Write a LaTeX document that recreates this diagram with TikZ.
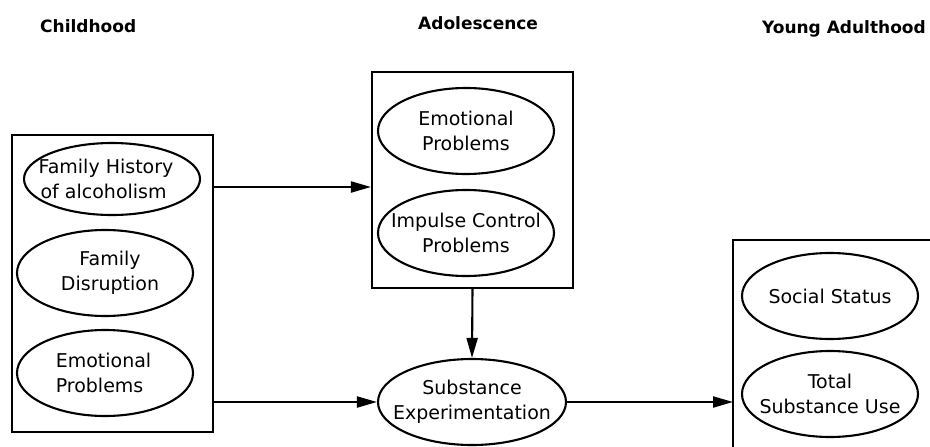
\documentclass[tikz,border=0pt]{standalone}
\usepackage{fontspec}
\setmainfont{DejaVu Sans}
\usetikzlibrary{shapes.geometric,arrows.meta}
\begin{document}
\begin{tikzpicture}[x=1pt,y=-1pt,
  ell/.style={draw,ellipse,line width=2.1pt,inner sep=-30pt,minimum width=176pt,minimum height=86pt,align=center,font=\fontsize{19}{25}\selectfont},
  boxx/.style={draw,line width=2.1pt,inner sep=0pt},
  hdr/.style={font=\fontsize{17}{20}\selectfont\bfseries,inner sep=0pt},
  arr/.style={line width=2.1pt,-{Triangle[length=20pt,width=11pt]}}]
\useasboundingbox (0,0) rectangle (930,447);
% headers
\node[hdr,anchor=west] (h1) at (40,26) {Childhood};
\node[hdr,anchor=west] (h2) at (418,23) {Adolescence};
\node[hdr,anchor=east] (h3) at (926,29) {Young Adulthood};
% left box
\node[boxx,minimum width=201pt,minimum height=297pt] (lbox) at (112.5,283.5) {};
\node[ell,minimum height=72pt,align=left] (fh) at (112,179) {\hspace*{-12pt}Family History\\\hspace*{-10pt}of alcoholism};
\node[ell] (fd) at (105,273) {\hspace*{10pt}Family\\\hspace*{10pt}Disruption};
\node[ell,align=left] (ep1) at (105,373) {\hspace*{-3pt}Emotional\\\hspace*{-3pt}Problems};
% adolescence box
\node[boxx,minimum width=201pt,minimum height=216pt] (abox) at (472.5,180) {};
\node[ell] (ep2) at (466,131) {Emotional\\Problems};
\node[ell] (ic) at (466,233) {Impulse Control\\Problems};
% substance
\node[ell,minimum width=188pt] (sub) at (472,402) {Substance\\Experimentation};
% right box
\draw[line width=2.1pt] (733,450) -- (733,240) -- (935,240);
\coordinate (ya) at (733,402);
\node[ell] (ss) at (830,296) {Social Status};
\node[ell] (ts) at (830,394) {Total\\Substance Use};
% arrows
\coordinate (a1) at (0,187);
\draw[arr] (lbox.east |- a1) -- (abox.west |- a1);
\draw[arr] (lbox.east |- sub) -- (sub.west);
\draw[arr] (abox.south) -- (sub.north);
\draw[arr] (sub.east) -- (ya);
\end{tikzpicture}
\end{document}
